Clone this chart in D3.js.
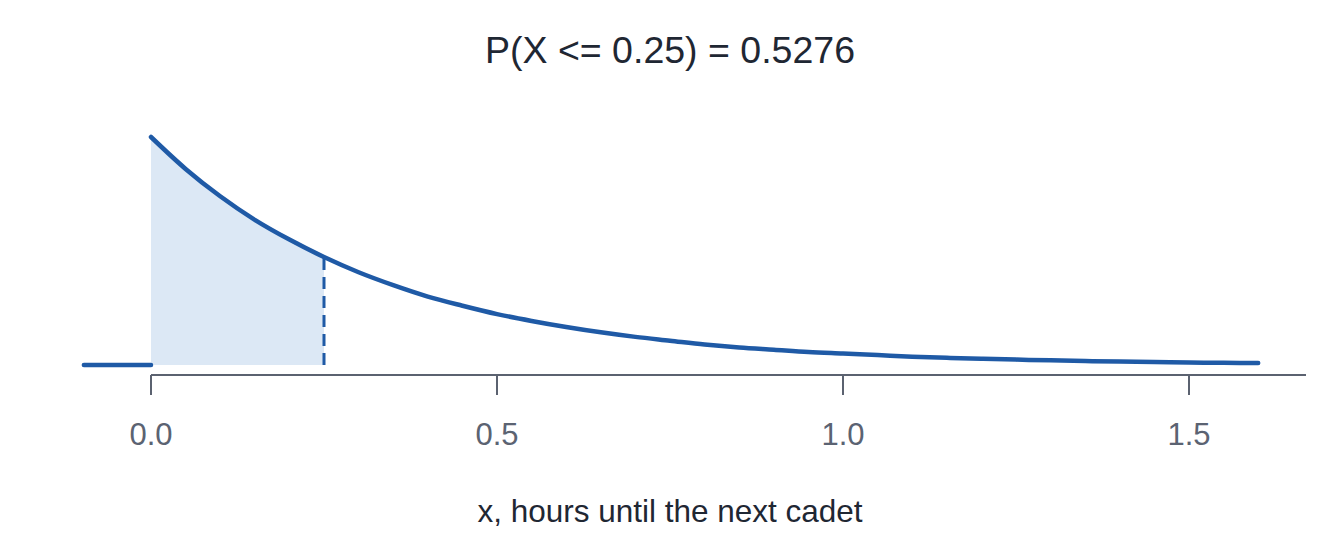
<!DOCTYPE html>
<html><head><meta charset="utf-8">
<script src="https://cdn.jsdelivr.net/npm/d3@7"></script>
<style>body{margin:0;background:#fff;} svg{display:block;font-family:"Liberation Sans",Arial,sans-serif;}</style>
</head><body>
<svg id="c" width="1344" height="537"></svg>
<script>
// Data (density of waiting time, x in hours)
const xs = [0,0.05,0.1,0.15,0.2,0.25,0.3,0.35,0.4,0.45,0.5,0.55,0.6,0.65,0.7,0.75,0.8,0.85,0.9,0.95,1.0,1.05,1.1,1.15,1.2,1.25,1.3,1.35,1.4,1.45,1.5,1.55,1.6];
const density = [3.00,2.58,2.22,1.91,1.65,1.42,1.22,1.05,0.90,0.78,0.67,0.58,0.50,0.43,0.37,0.32,0.27,0.23,0.20,0.17,0.15,0.13,0.11,0.095,0.082,0.071,0.061,0.052,0.045,0.039,0.033,0.029,0.025];
const cutoff = 0.25;
const leftZero = [-0.097, 0];
const tickValues = [0, 0.5, 1.0, 1.5];
const tickLabels = ["0.0", "0.5", "1.0", "1.5"];
const title = "P(X <= 0.25) = 0.5276";
const xLabel = "x, hours until the next cadet";

const svg = d3.select("#c");
const x = d3.scaleLinear().domain([0, 1.5]).range([151, 1189]);
const y = d3.scaleLinear().domain([0, 3]).range([365, 137]);
const pts = xs.map((v, i) => ({x: v, y: density[i]}));
const lineCol = "#1f5aa6";

// shaded area
const shade = pts.filter(d => d.x <= cutoff);
svg.append("path")
  .datum(shade)
  .attr("fill", "#dce8f5")
  .attr("d", d3.area().x(d => x(d.x)).y0(y(0)).y1(d => y(d.y)).curve(d3.curveMonotoneX));

// axis
const axisY = 375;
const axisCol = "#5b6270";
svg.append("line").attr("x1", x(0)).attr("x2", 1306).attr("y1", axisY).attr("y2", axisY)
  .attr("stroke", axisCol).attr("stroke-width", 2);
const tg = svg.selectAll("g.tick").data(tickValues).join("g").attr("class", "tick")
  .attr("transform", d => `translate(${x(d)},0)`);
tg.append("line").attr("y1", axisY).attr("y2", axisY + 20).attr("stroke", axisCol).attr("stroke-width", 2);
tg.append("text").attr("y", 445).attr("text-anchor", "middle").attr("font-size", 31)
  .attr("fill", "#5b6372").text((d, i) => tickLabels[i]);

// left zero segment
svg.append("line").attr("x1", x(leftZero[0])).attr("x2", x(leftZero[1]))
  .attr("y1", y(0)).attr("y2", y(0)).attr("stroke", lineCol).attr("stroke-width", 4.5).attr("stroke-linecap", "round");

// dashed line at cutoff
const fc = density[xs.indexOf(cutoff)];
svg.append("line").attr("x1", x(cutoff)).attr("x2", x(cutoff)).attr("y1", y(0)).attr("y2", y(fc))
  .attr("stroke", lineCol).attr("stroke-width", 3).attr("stroke-dasharray", "12,7");

// density curve
svg.append("path").datum(pts).attr("fill", "none").attr("stroke", lineCol).attr("stroke-width", 4.5)
  .attr("stroke-linecap", "round").attr("stroke-linejoin", "round")
  .attr("d", d3.line().x(d => x(d.x)).y(d => y(d.y)).curve(d3.curveMonotoneX));

// title and label
svg.append("text").attr("x", 670).attr("y", 63).attr("text-anchor", "middle").attr("font-size", 37.5)
  .attr("fill", "#1f2733").text(title);
svg.append("text").attr("x", 670).attr("y", 522).attr("text-anchor", "middle").attr("font-size", 31.5)
  .attr("fill", "#1f2733").text(xLabel);
</script>
</body></html>
